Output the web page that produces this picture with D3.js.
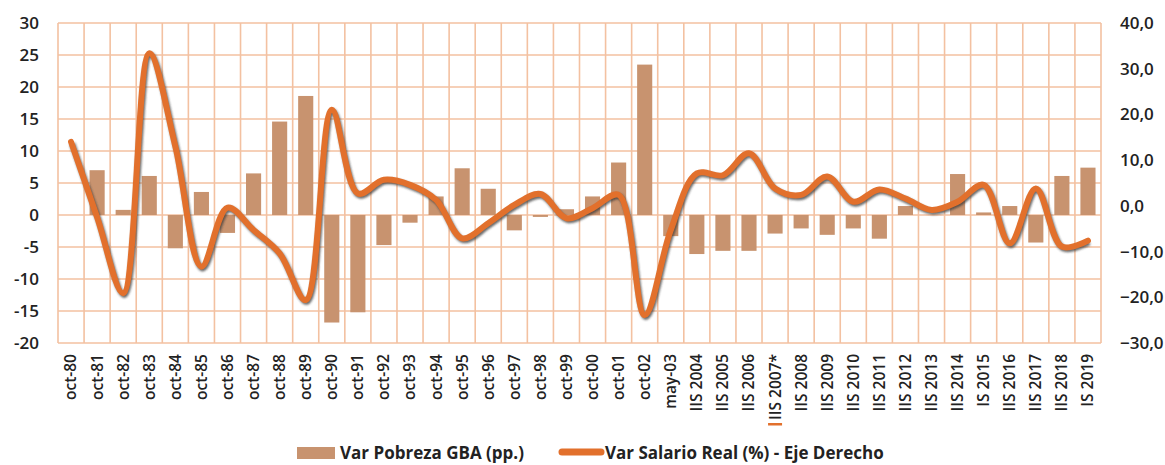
<!DOCTYPE html>
<html>
<head>
<meta charset="utf-8">
<script src="https://cdn.jsdelivr.net/npm/d3@7"></script>
<style>
  body { margin: 0; background: #fff; }
  text { font-family: "Open Sans", "Noto Sans", sans-serif; fill: #222; }
</style>
</head>
<body>
<div id="chart"></div>
<script>
// categories (x axis)
const categories = ["oct-80","oct-81","oct-82","oct-83","oct-84","oct-85","oct-86","oct-87","oct-88","oct-89",
  "oct-90","oct-91","oct-92","oct-93","oct-94","oct-95","oct-96","oct-97","oct-98","oct-99",
  "oct-00","oct-01","oct-02","may-03","IIS 2004","IIS 2005","IIS 2006","IIS 2007*","IIS 2008","IIS 2009",
  "IIS 2010","IIS 2011","IIS 2012","IIS 2013","IIS 2014","IS 2015","IIS 2016","IIS 2017","IIS 2018","IS 2019"];

// Var Pobreza GBA (pp.) - left axis
const pobreza = [0, 7.0, 0.8, 6.1, -5.2, 3.6, -2.8, 6.5, 14.6, 18.6,
  -16.8, -15.2, -4.7, -1.2, 2.9, 7.3, 4.1, -2.4, -0.3, 0.9,
  2.9, 8.2, 23.5, -3.3, -6.1, -5.6, -5.6, -2.9, -2.1, -3.1,
  -2.1, -3.7, 1.4, 0, 6.4, 0.4, 1.4, -4.3, 6.1, 7.4];

// Var Salario Real (%) - right axis
const salario = [14.0, -2.5, -19.1, 33.4, 13.0, -13.3, -0.4, -5.3, -10.4, -20.6,
  21.0, 2.7, 5.7, 4.6, 1.3, -7.1, -3.8, 0.2, 2.6, -2.7,
  -0.5, 2.4, -23.9, -5.3, 7.1, 6.7, 11.5, 3.8, 2.4, 6.4,
  0.9, 3.6, 1.6, -0.9, 0.9, 4.6, -8.2, 3.8, -8.9, -7.6];

const leftTicks = [-20, -15, -10, -5, 0, 5, 10, 15, 20, 25, 30];
const rightTicks = [-30, -20, -10, 0, 10, 20, 30, 40];

const W = 1165, H = 465;
const plot = {left: 58, right: 1101, top: 23, bottom: 343};
const barColor = "#c8936f", lineColor = "#e2702c", gridColor = "#f3c1a1";

const svg = d3.select("#chart").append("svg")
  .attr("width", W).attr("height", H);

const defs = svg.append("defs");
defs.append("filter").attr("id", "shadow")
  .append("feGaussianBlur").attr("stdDeviation", 0.8);

const x = d3.scaleBand().domain(categories).range([plot.left, plot.right]).padding(0);
const yL = d3.scaleLinear().domain([-20, 30]).range([plot.bottom, plot.top]);
const yR = d3.scaleLinear().domain([-30, 40]).range([plot.bottom, plot.top]);
const step = x.step();

// grid
const grid = svg.append("g");
grid.selectAll("line.h").data(leftTicks).enter().append("line")
  .attr("x1", plot.left).attr("x2", plot.right)
  .attr("y1", d => yL(d)).attr("y2", d => yL(d))
  .attr("stroke", gridColor).attr("stroke-width", 1.6);
grid.selectAll("line.v").data(d3.range(categories.length + 1)).enter().append("line")
  .attr("x1", i => plot.left + i * step).attr("x2", i => plot.left + i * step)
  .attr("y1", plot.top).attr("y2", plot.bottom)
  .attr("stroke", gridColor).attr("stroke-width", 1.6);

// bars
svg.append("g").selectAll("rect").data(pobreza).enter().append("rect")
  .attr("x", (d, i) => x(categories[i]) + step * 0.21)
  .attr("width", step * 0.58)
  .attr("y", d => yL(Math.max(0, d)))
  .attr("height", d => Math.abs(yL(d) - yL(0)))
  .attr("fill", barColor);

// line with shadow
const line = d3.line()
  .x((d, i) => x(categories[i]) + step / 2)
  .y(d => yR(d))
  .curve(d3.curveCatmullRom.alpha(0.5));

svg.append("path").datum(salario)
  .attr("d", line)
  .attr("fill", "none")
  .attr("stroke", "#3a3a3a").attr("stroke-opacity", 0.75)
  .attr("stroke-width", 6)
  .attr("transform", "translate(1.2,1.8)")
  .attr("filter", "url(#shadow)");
svg.append("path").datum(salario)
  .attr("d", line)
  .attr("fill", "none")
  .attr("stroke", lineColor)
  .attr("stroke-width", 6)
  .attr("stroke-linejoin", "round")
  .attr("stroke-linecap", "round");

// left axis labels
svg.append("g").selectAll("text").data(leftTicks).enter().append("text")
  .attr("x", 39).attr("y", d => yL(d)).attr("dy", "0.35em")
  .attr("text-anchor", "end")
  .style("font-size", "17px").style("font-weight", 600)
  .text(d => d);

// right axis labels
const fmtR = d => d3.format(".1f")(d).replace(".", ",");
svg.append("g").selectAll("text").data(rightTicks).enter().append("text")
  .attr("x", 1120).attr("y", d => yR(d)).attr("dy", "0.35em")
  .attr("text-anchor", "start")
  .style("font-size", "17px").style("font-weight", 600)
  .text(fmtR);

// x labels, rotated
svg.append("g").selectAll("text").data(categories).enter().append("text")
  .attr("transform", d => "translate(" + (x(d) + step / 2) + ",354) rotate(-90)")
  .attr("dy", "0.35em")
  .attr("text-anchor", "end")
  .style("font-size", "15.5px").style("font-weight", 600)
  .text(d => d);

// small orange mark under IIS 2007*
svg.append("rect")
  .attr("x", x("IIS 2007*") + step / 2 - 7).attr("y", 423)
  .attr("width", 14).attr("height", 2.5)
  .attr("fill", lineColor);

// legend
const lg = svg.append("g");
lg.append("rect").attr("x", 297).attr("y", 447).attr("width", 38).attr("height", 12).attr("fill", barColor);
lg.append("text").attr("x", 340).attr("y", 453).attr("dy", "0.35em")
  .style("font-size", "17px").style("font-weight", 700)
  .text("Var Pobreza GBA (pp.)");
lg.append("line").attr("x1", 562).attr("x2", 601).attr("y1", 452).attr("y2", 452)
  .attr("stroke", lineColor).attr("stroke-width", 7).attr("stroke-linecap", "round");
lg.append("text").attr("x", 605).attr("y", 453).attr("dy", "0.35em")
  .style("font-size", "17px").style("font-weight", 700)
  .text("Var Salario Real (%) - Eje Derecho");
</script>
</body>
</html>
